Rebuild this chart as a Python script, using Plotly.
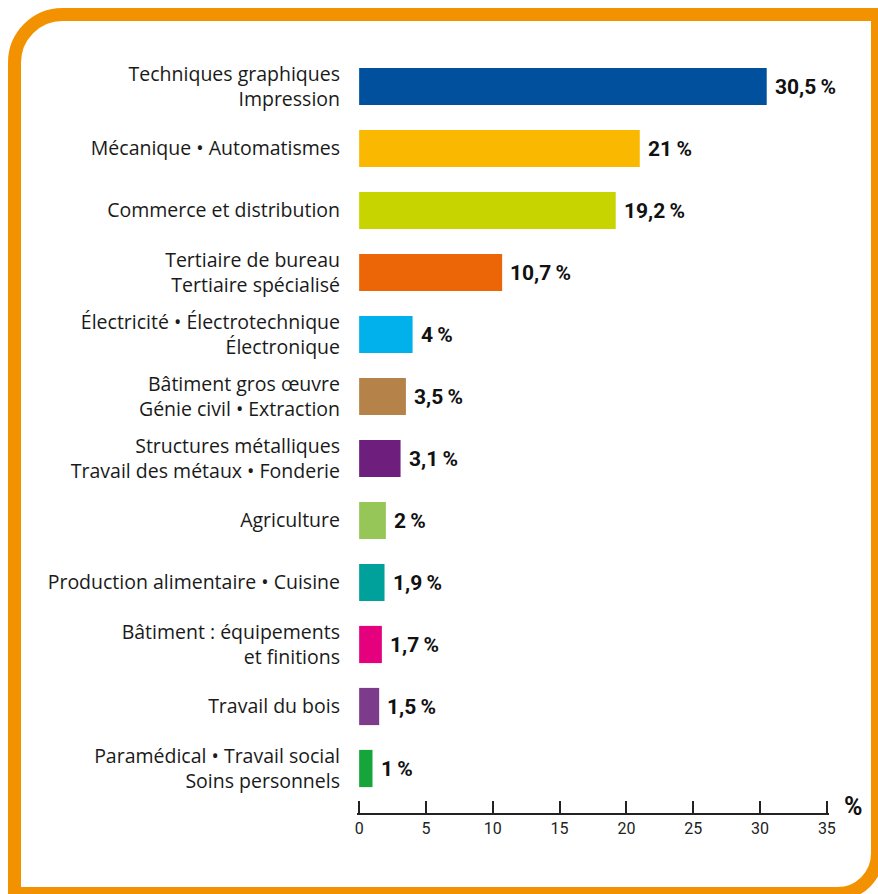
import plotly.graph_objects as go

categories = [
    "Techniques graphiques<br>Impression",
    "Mécanique • Automatismes",
    "Commerce et distribution",
    "Tertiaire de bureau<br>Tertiaire spécialisé",
    "Électricité • Électrotechnique<br>Électronique",
    "Bâtiment gros œuvre<br>Génie civil • Extraction",
    "Structures métalliques<br>Travail des métaux • Fonderie",
    "Agriculture",
    "Production alimentaire • Cuisine",
    "Bâtiment : équipements<br>et finitions",
    "Travail du bois",
    "Paramédical • Travail social<br>Soins personnels",
]
values = [30.5, 21, 19.2, 10.7, 4, 3.5, 3.1, 2, 1.9, 1.7, 1.5, 1]
value_labels = ["30,5", "21", "19,2", "10,7", "4", "3,5", "3,1", "2", "1,9", "1,7", "1,5", "1"]
colors = ["#00509E", "#FAB900", "#C8D400", "#EC6608", "#00B1EB", "#B5834A",
          "#6E1F7E", "#97C658", "#00A19A", "#E5007E", "#7D3B8C", "#16A53A"]
x_ticks = [0, 5, 10, 15, 20, 25, 30, 35]

W, H = 878, 894
L, R, T, B = 357, 49, 40, 81
pw, ph = W - L - R, H - T - B

ypos = list(range(len(categories)))

fig = go.Figure()
fig.add_trace(go.Bar(
    x=values, y=ypos, orientation="h",
    marker=dict(color=colors, line=dict(width=0)),
    width=0.6, hoverinfo="skip",
))

for v, lab, yp in zip(values, value_labels, ypos):
    fig.add_annotation(x=v, y=yp, xref="x", yref="y", text="<b>" + lab + "\u2009%</b>",
                       showarrow=False, xanchor="left", xshift=6,
                       font=dict(family="Roboto", size=21, color="#111111"))

fig.add_annotation(x=(853 - L) / pw, y=(813 - 806) / ph, xref="paper", yref="paper",
                   text="<b>%</b>", showarrow=False, xanchor="center", yanchor="middle",
                   font=dict(family="Roboto", size=25, color="#111111"))

def px(x):
    return (x - L) / pw

def py(y):
    return (T + ph - y) / ph

# frame with rounded top-left and bottom-right corners
xl, xr, yt, yb = 14.5, 877.5, 14.5, 893.5
r1, r2 = 48, 40
k = 0.5523
path = (
    f"M {px(xl)},{py(yt + r1)} "
    f"C {px(xl)},{py(yt + r1 - k * r1)} {px(xl + r1 - k * r1)},{py(yt)} {px(xl + r1)},{py(yt)} "
    f"L {px(xr)},{py(yt)} "
    f"L {px(xr)},{py(yb - r2)} "
    f"C {px(xr)},{py(yb - r2 + k * r2)} {px(xr - r2 + k * r2)},{py(yb)} {px(xr - r2)},{py(yb)} "
    f"L {px(xl)},{py(yb)} Z"
)
fig.add_shape(type="path", path=path, xref="paper", yref="paper",
              line=dict(color="#F39200", width=13), fillcolor="rgba(0,0,0,0)", layer="below")

fig.update_layout(
    width=W, height=H,
    margin=dict(l=L, r=R, t=T, b=B, pad=0),
    paper_bgcolor="white", plot_bgcolor="white",
    showlegend=False, bargap=0.4,
    font=dict(family="Open Sans", color="#1a1a1a"),
)
fig.update_xaxes(
    range=[-0.16, 35.16], tickvals=x_ticks, ticktext=[str(t) for t in x_ticks],
    showgrid=False, zeroline=False, showline=True, linecolor="#222222", linewidth=1.5,
    ticks="inside", ticklen=12, tickwidth=1.5, tickcolor="#222222",
    tickfont=dict(family="Roboto", size=16, color="#222222"), fixedrange=True,
)
fig.update_yaxes(
    range=[(T + ph - 86.5) / 62, (T - 86.5) / 62],
    tickvals=ypos, ticktext=categories,
    showgrid=False, zeroline=False, showline=False, ticks="",
    ticklabelstandoff=16,
    tickfont=dict(family="Open Sans", size=19.5, color="#1a1a1a"), fixedrange=True,
)

fig.write_html("out.html")
